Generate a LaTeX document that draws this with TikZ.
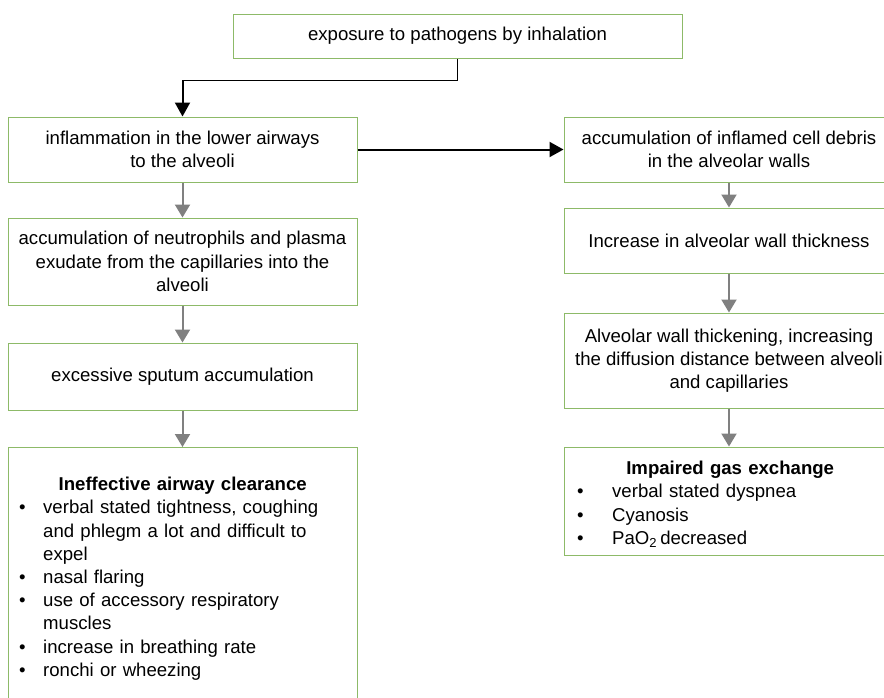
\documentclass[tikz,border=0pt]{standalone}
\usepackage{fontspec}
\setmainfont{Liberation Sans}
\usetikzlibrary{arrows.meta,calc}
\definecolor{boxgreen}{RGB}{141,186,104}
\definecolor{arrowgray}{RGB}{128,128,128}
\newcommand\diafont{\fontsize{18.6}{23.2}\selectfont}
\newcommand\bulitem[1]{\par\hangindent=24pt\hangafter=1\noindent\makebox[24pt][l]{•}#1}
\newcommand\bulitemb[1]{\par\hangindent=35pt\hangafter=1\noindent\makebox[35pt][l]{•}#1}
\begin{document}
\begin{tikzpicture}[x=1pt,y=-1pt,
  box/.style={draw=boxgreen, line width=1pt, fill=white, inner sep=0pt, align=center, font=\diafont},
  listtext/.style={inner sep=0pt, font=\diafont, anchor=north west},
  blk/.style={draw=black, line width=2pt, -{Triangle[width=15pt,length=14pt]}},
  gry/.style={draw=arrowgray, line width=2pt, -{Triangle[width=15pt,length=13pt]}},
  thinline/.style={draw=black, line width=1pt}]
\useasboundingbox (0,0) rectangle (884,697);
\fill[white] (0,0) rectangle (884,697);
\clip (0,0) rectangle (884,697);

% boxes
\node[box, minimum width=449pt, minimum height=44pt] (top) at (457.5,36) {exposure to pathogens by inhalation};
\node[box, minimum width=349pt, minimum height=65pt] (l1) at (182.5,149.5) {inflammation in the lower airways\\ to the alveoli};
\node[box, minimum width=349pt, minimum height=87pt] (l2) at (182.5,261.5) {accumulation of neutrophils and plasma\\ exudate from the capillaries into the\\ alveoli};
\node[box, minimum width=349pt, minimum height=67pt] (l3) at (182.5,376.5) {excessive sputum accumulation};
\node[box, minimum width=349pt, minimum height=290pt, anchor=north] (l4) at (182.5,447) {};

\node[box, minimum width=330pt, minimum height=65pt] (r1) at (729,149.5) {accumulation of inflamed cell debris\\ in the alveolar walls};
\node[box, minimum width=330pt, minimum height=65pt] (r2) at (729,240.5) {Increase in alveolar wall thickness};
\node[box, minimum width=330pt, minimum height=95pt] (r3) at (729,360.5) {Alveolar wall thickening, increasing\\ the diffusion distance between alveoli\\ and capillaries};
\node[box, minimum width=330pt, minimum height=108pt] (r4) at (729,501) {};

% list texts
\node[listtext, text width=327pt] (l4text) at (19,477) {\centering\textbf{Ineffective airway clearance}\par\raggedright
\bulitem{verbal stated tightness, coughing\newline and phlegm a lot and difficult to\newline expel}
\bulitem{nasal flaring}
\bulitem{use of accessory respiratory\newline muscles}
\bulitem{increase in breathing rate}
\bulitem{ronchi or wheezing}\par};
\node[listtext, text width=306pt] (r4text) at (577,461) {\centering\textbf{Impaired gas exchange}\par\raggedright
\bulitemb{verbal stated dyspnea}
\bulitemb{Cyanosis}
\bulitemb{PaO\textsubscript{2}\,decreased}\par};

% connectors
\coordinate (elb) at (182.5,80);
\draw[thinline] (top.south) |- (elb);
\draw[blk] (elb) -- (l1.north);
\draw[blk] (l1.east) -- (r1.west);
\draw[gry] (l1.south) -- (l2.north);
\draw[gry] (l2.south) -- (l3.north);
\draw[gry] (l3.south) -- (l4.north);
\draw[gry] (r1.south) -- (r2.north);
\draw[gry] (r2.south) -- (r3.north);
\draw[gry] (r3.south) -- (r4.north);
\end{tikzpicture}
\end{document}
